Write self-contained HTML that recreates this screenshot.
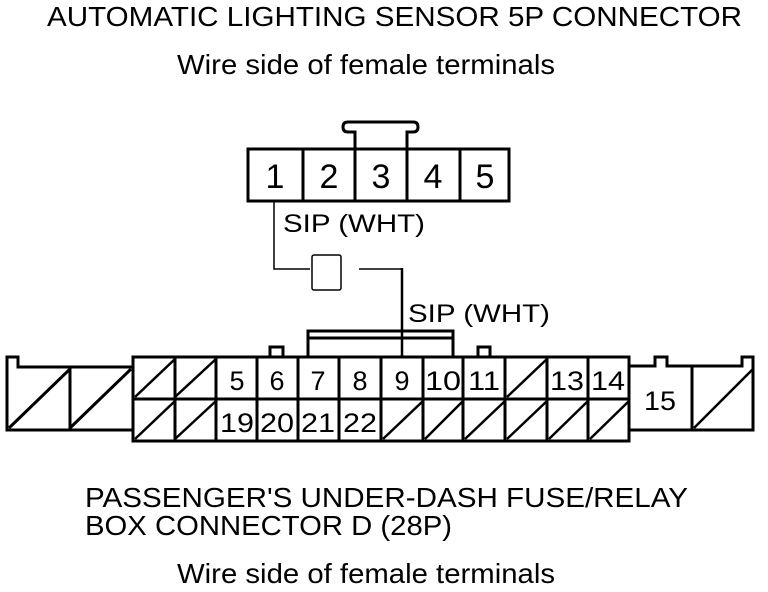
<!DOCTYPE html>
<html><head><meta charset="utf-8"><style>html,body{margin:0;padding:0;background:#fff}svg{display:block}</style></head>
<body>
<svg width="768" height="592" viewBox="0 0 768 592" xmlns="http://www.w3.org/2000/svg" font-family="Liberation Sans, sans-serif" fill="none" stroke="#000">
<g fill="#000" stroke="none" font-size="28">
<text x="47" y="26" textLength="695" lengthAdjust="spacingAndGlyphs">AUTOMATIC LIGHTING SENSOR 5P CONNECTOR</text>
<text x="177" y="74" textLength="378" lengthAdjust="spacingAndGlyphs">Wire side of female terminals</text>
<text x="85" y="507" textLength="603" lengthAdjust="spacingAndGlyphs">PASSENGER'S UNDER-DASH FUSE/RELAY</text>
<text x="85" y="535" textLength="367" lengthAdjust="spacingAndGlyphs">BOX CONNECTOR D (28P)</text>
<text x="177" y="583" textLength="378" lengthAdjust="spacingAndGlyphs">Wire side of female terminals</text>
</g>
<g stroke-width="3">
<path d="M355 149 V132 H348 Q343 132 343 127 Q343 122 348 122 H413 Q418 122 418 127 Q418 132 413 132 H407 V149"/>
<rect x="248" y="149" width="261" height="52"/>
<path d="M303 149V201M355 149V201M407 149V201M460 149V201"/>
</g>
<g fill="#000" stroke="none" font-size="34" text-anchor="middle">
<text x="275" y="188">1</text><text x="329" y="188">2</text><text x="381" y="188">3</text><text x="433" y="188">4</text><text x="485" y="188">5</text>
</g>
<g stroke-width="1.5">
<path d="M274 201V269H310"/>
<rect x="312" y="255" width="29" height="35" rx="2"/>
<path d="M359 269H402"/>
</g>
<path d="M402 268V357" stroke-width="2.5"/>
<g fill="#000" stroke="none" font-size="25">
<text x="283" y="232" textLength="142" lengthAdjust="spacingAndGlyphs">SIP (WHT)</text>
<text x="408" y="322" textLength="142" lengthAdjust="spacingAndGlyphs">SIP (WHT)</text>
</g>
<g stroke-width="3">
<path d="M133 367H18V357H7V430H133"/>
<path d="M70 367V430M9 428L70 369M70 428L131 369"/>
<path d="M308 357V331H453V357M308 338H453"/>
<path d="M270 357V347H283V357M478 357V347H490V357"/>
<rect x="133" y="357" width="496" height="84"/>
<path d="M133 399H629"/>
<path d="M175 357V441M216 357V441M257 357V441M298 357V441M339 357V441M381 357V441M423 357V441M463 357V441M505 357V441M547 357V441M588 357V441"/>
<path d="M629 366H655V357H667V366H742V357H753V430H629M692 366V430"/>
</g>
<g stroke-width="2.5">
<path d="M135 397L175 359M175 397L216 359M135 439L175 401M175 439L216 401"/>
<path d="M507 397L547 359"/>
<path d="M383 439L423 401M425 439L463 401M465 439L505 401M507 439L547 401M549 439L588 401M590 439L629 401"/>
<path d="M694 428L753 369"/>
</g>
<g fill="#000" stroke="none" font-size="27" text-anchor="middle">
<text x="237" y="390">5</text><text x="277" y="390">6</text><text x="318" y="390">7</text><text x="360" y="390">8</text><text x="402" y="390">9</text><text x="443" y="390" textLength="36" lengthAdjust="spacingAndGlyphs">10</text><text x="484" y="390" textLength="32" lengthAdjust="spacingAndGlyphs">11</text><text x="567" y="390" textLength="34" lengthAdjust="spacingAndGlyphs">13</text><text x="608" y="390" textLength="34" lengthAdjust="spacingAndGlyphs">14</text>
<text x="237" y="432" textLength="34" lengthAdjust="spacingAndGlyphs">19</text><text x="277" y="432" textLength="34" lengthAdjust="spacingAndGlyphs">20</text><text x="318" y="432" textLength="34" lengthAdjust="spacingAndGlyphs">21</text><text x="360" y="432" textLength="34" lengthAdjust="spacingAndGlyphs">22</text>
<text x="660" y="410" textLength="32" lengthAdjust="spacingAndGlyphs">15</text>
</g>
</svg>
</body></html>
